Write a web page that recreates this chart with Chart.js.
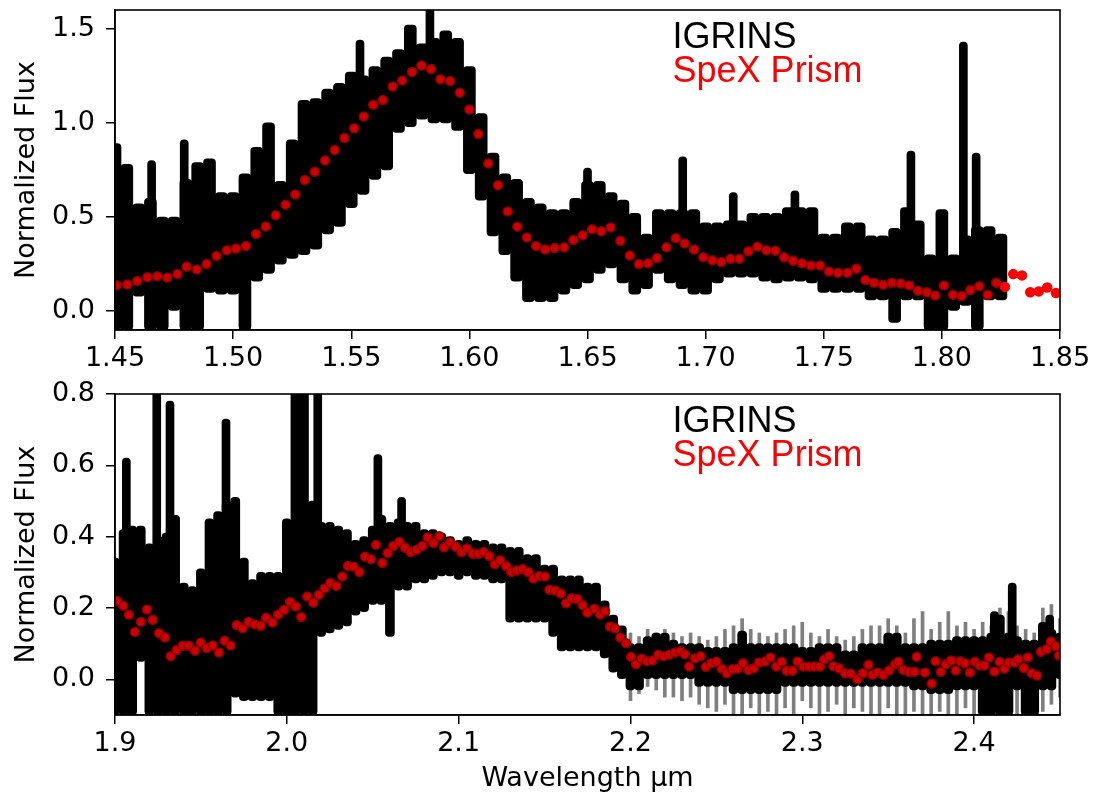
<!DOCTYPE html>
<html>
<head>
<meta charset="utf-8">
<script src="https://cdn.jsdelivr.net/npm/chart.js@4.4.1/dist/chart.umd.min.js"></script>
<style>
  body { margin: 0; background: #fff; width: 1103px; height: 795px; position: relative; overflow: hidden; }
  canvas { position: absolute; left: 0; }
</style>
</head>
<body>
<canvas id="topChart" width="1103" height="375" style="top:0"></canvas>
<canvas id="botChart" width="1103" height="420" style="top:375px"></canvas>
<script>
// ---- labels / ticks ----
const legendLabels = ["IGRINS", "SpeX Prism"];
const yTitle = "Normalized Flux";
const xTitle = "Wavelength \u03bcm";
const topTicksX = [1.45, 1.50, 1.55, 1.60, 1.65, 1.70, 1.75, 1.80, 1.85];
const topTicksY = [0.0, 0.5, 1.0, 1.5];
const botTicksX = [1.9, 2.0, 2.1, 2.2, 2.3, 2.4];
const botTicksY = [0.0, 0.2, 0.4, 0.6, 0.8];

// ---- IGRINS, H band: flux range (low/high) in 0.005 um bins from 1.450 ----
const igrinsTopStart = 1.45;
const igrinsTopHi = [0.89,0.78,0.57,0.60,0.50,0.50,0.70,0.79,0.81,0.63,
  0.63,0.73,0.87,1.00,0.69,0.91,1.12,1.13,1.18,1.21,
  1.27,1.25,1.30,1.35,1.39,1.52,1.42,1.45,1.49,1.45,
  1.30,1.05,0.84,0.73,0.70,0.60,0.57,0.54,0.54,0.60,
  0.69,0.69,0.63,0.59,0.52,0.41,0.54,0.54,0.54,0.54,
  0.47,0.47,0.48,0.48,0.52,0.52,0.52,0.55,0.55,0.55,
  0.41,0.41,0.47,0.47,0.40,0.40,0.44,0.55,0.48,0.30,
  0.54,0.30,0.40,0.45,0.45,0.41];
const igrinsTopLo = [-0.1,-0.1,0.08,-0.1,-0.1,0.0,-0.1,-0.1,0.10,0.09,
  0.09,-0.1,0.16,0.20,0.25,0.28,0.30,0.33,0.41,0.45,
  0.55,0.62,0.70,0.75,0.95,0.98,1.02,1.00,1.00,0.96,
  0.73,0.59,0.40,0.30,0.16,0.05,0.05,0.05,0.09,0.12,
  0.15,0.20,0.23,0.15,0.09,0.12,0.20,0.15,0.12,0.09,
  0.09,0.15,0.18,0.18,0.18,0.16,0.15,0.16,0.16,0.15,
  0.10,0.10,0.10,0.10,0.06,0.06,-0.06,0.06,0.06,-0.1,
  -0.1,0.0,0.03,-0.1,0.06,0.06];
// narrow emission spikes: [wavelength, low, high]
const igrinsTopSpikes = [[1.4655,0.30,0.80],[1.4793,0.30,0.91],[1.5537,0.80,1.44],[1.5833,1.10,1.61],
  [1.6500,0.30,0.76],[1.6903,0.30,0.82],[1.7117,0.30,0.63],[1.7378,0.30,0.64],
  [1.7869,0.20,0.85],[1.8091,0.20,1.43],[1.8145,0.10,0.84]];

// ---- IGRINS, K band ----
const igrinsBotStart = 1.90;
const igrinsBotHi = [0.34,0.42,0.43,0.43,0.38,0.40,0.41,0.46,0.27,0.26,
  0.31,0.45,0.47,0.50,0.51,0.34,0.28,0.30,0.30,0.30,
  0.45,0.82,0.82,0.50,0.44,0.44,0.43,0.42,0.39,0.40,
  0.43,0.46,0.44,0.45,0.44,0.44,0.42,0.42,0.41,0.40,
  0.39,0.40,0.39,0.39,0.38,0.38,0.37,0.37,0.35,0.35,
  0.32,0.32,0.29,0.29,0.29,0.27,0.27,0.22,0.18,0.15,
  0.10,0.10,0.12,0.13,0.13,0.11,0.10,0.10,0.10,0.09,
  0.09,0.09,0.10,0.135,0.10,0.10,0.10,0.10,0.10,0.10,
  0.09,0.09,0.10,0.10,0.10,0.08,0.08,0.10,0.10,0.10,
  0.13,0.13,0.10,0.10,0.10,0.11,0.11,0.11,0.12,0.12,
  0.12,0.12,0.13,0.18,0.13,0.12,0.11,0.11,0.16,0.14,
  0.13];
const igrinsBotLo = [-0.1,-0.1,-0.1,0.05,-0.1,-0.1,-0.1,-0.1,-0.1,-0.1,
  -0.1,-0.1,-0.1,-0.1,-0.05,-0.06,-0.06,-0.06,-0.06,-0.1,
  -0.1,-0.1,-0.1,-0.1,0.12,0.13,0.14,0.15,0.18,0.19,
  0.21,0.21,0.12,0.25,0.25,0.27,0.27,0.28,0.29,0.29,
  0.28,0.29,0.28,0.28,0.27,0.27,0.16,0.16,0.16,0.16,
  0.16,0.12,0.08,0.08,0.08,0.08,0.08,0.06,0.02,0.00,
  -0.03,-0.03,0.00,0.00,0.00,0.00,0.00,0.00,-0.02,-0.02,
  -0.02,-0.02,-0.04,-0.04,-0.04,-0.04,-0.04,-0.04,-0.02,-0.02,
  -0.02,-0.02,-0.02,-0.02,-0.02,-0.02,-0.02,-0.02,-0.02,-0.02,
  -0.02,-0.02,-0.02,-0.03,-0.03,-0.04,-0.04,-0.04,-0.03,-0.03,
  -0.03,-0.1,-0.1,-0.1,-0.1,-0.03,-0.1,-0.1,-0.03,-0.03,
  0.00];
const igrinsBotSpikes = [[1.9066,0.30,0.62],[1.9243,0.30,0.82],[1.9320,0.30,0.78],[1.9646,0.30,0.73],
  [2.0180,0.30,0.82],[2.0530,0.30,0.63],[2.0668,0.30,0.51],
  [2.4118,0.00,0.19],[2.4222,0.00,0.27],[2.4440,0.00,0.18]];
// faint noisy streaks past 2.2 um
const noiseStart = 2.20;
const noiseHi = [0.13,0.12,0.14,0.13,0.14,0.13,0.12,0.13,0.12,0.11,
  0.12,0.14,0.15,0.17,0.14,0.13,0.12,0.13,0.14,0.15,
  0.16,0.13,0.12,0.14,0.12,0.11,0.12,0.14,0.15,0.15,
  0.17,0.15,0.13,0.17,0.19,0.14,0.16,0.19,0.15,0.16,
  0.14,0.16,0.15,0.20,0.19,0.15,0.14,0.13,0.20,0.21,
  0.17];
const noiseLo = [-0.06,-0.04,-0.02,-0.03,-0.05,-0.05,-0.06,-0.05,-0.07,-0.08,
  -0.09,-0.07,-0.1,-0.1,-0.08,-0.1,-0.09,-0.1,-0.08,-0.1,
  -0.06,-0.08,-0.1,-0.09,-0.07,-0.1,-0.08,-0.09,-0.1,-0.1,
  -0.08,-0.1,-0.1,-0.09,-0.1,-0.1,-0.09,-0.1,-0.1,-0.08,
  -0.1,-0.1,-0.1,-0.1,-0.1,-0.1,-0.1,-0.1,-0.09,-0.07,
  -0.05];
const binStep = 0.005;

// ---- SpeX Prism ----
const spexTopW = [1.4507,1.4552,1.4594,1.4637,1.4679,1.4721,1.4764,1.4803,1.4846,1.4888,
  1.4930,1.4973,1.5012,1.5054,1.5097,1.5138,1.5180,1.5222,1.5263,1.5304,
  1.5346,1.5389,1.5430,1.5471,1.5512,1.5553,1.5593,1.5634,1.5675,1.5716,
  1.5757,1.5797,1.5838,1.5877,1.5918,1.5959,1.6000,1.6038,1.6080,1.6121,
  1.6162,1.6203,1.6243,1.6282,1.6321,1.6361,1.6401,1.6440,1.6480,1.6519,
  1.6558,1.6598,1.6639,1.6679,1.6717,1.6756,1.6794,1.6834,1.6873,1.6911,
  1.6951,1.6990,1.7028,1.7066,1.7105,1.7143,1.7181,1.7219,1.7257,1.7295,
  1.7332,1.7370,1.7408,1.7446,1.7484,1.7522,1.7560,1.7600,1.7638,1.7676,
  1.7713,1.7751,1.7788,1.7826,1.7862,1.7899,1.7936,1.7972,1.8009,1.8047,
  1.8084,1.8120,1.8158,1.8194,1.8230,1.8267,1.8302,1.8339,1.8374,1.8410,
  1.8446,1.8483];
const spexTopF = [0.138,0.142,0.160,0.180,0.186,0.179,0.197,0.236,0.222,0.250,
  0.293,0.324,0.333,0.346,0.410,0.450,0.509,0.566,0.620,0.697,
  0.741,0.800,0.856,0.920,0.972,1.034,1.097,1.122,1.193,1.225,
  1.271,1.305,1.286,1.232,1.223,1.161,1.071,0.941,0.785,0.669,
  0.530,0.449,0.392,0.346,0.328,0.335,0.339,0.378,0.403,0.435,
  0.424,0.445,0.374,0.296,0.250,0.254,0.282,0.339,0.388,0.360,
  0.328,0.286,0.271,0.261,0.278,0.278,0.318,0.342,0.324,0.321,
  0.286,0.268,0.254,0.243,0.243,0.211,0.204,0.204,0.225,0.165,
  0.151,0.140,0.151,0.147,0.137,0.108,0.101,0.083,0.137,0.087,
  0.080,0.112,0.133,0.087,0.151,0.129,0.197,0.190,0.101,0.105,
  0.126,0.097];
const spexBotW = [1.9013,1.9048,1.9081,1.9116,1.9151,1.9186,1.9219,1.9256,1.9291,1.9324,
  1.9359,1.9394,1.9429,1.9466,1.9499,1.9533,1.9569,1.9605,1.9638,1.9673,
  1.9708,1.9743,1.9778,1.9813,1.9848,1.9879,1.9916,1.9949,1.9984,2.0019,
  2.0052,2.0084,2.0119,2.0154,2.0187,2.0220,2.0253,2.0288,2.0323,2.0356,
  2.0389,2.0422,2.0455,2.0490,2.0519,2.0556,2.0587,2.0620,2.0655,2.0688,
  2.0721,2.0756,2.0789,2.0820,2.0853,2.0888,2.0915,2.0950,2.0983,2.1016,
  2.1049,2.1082,2.1114,2.1146,2.1178,2.1210,2.1241,2.1276,2.1306,2.1338,
  2.1371,2.1404,2.1435,2.1469,2.1503,2.1528,2.1561,2.1594,2.1625,2.1658,
  2.1691,2.1722,2.1749,2.1790,2.1823,2.1852,2.1881,2.1910,2.1941,2.1974,
  2.2003,2.2032,2.2065,2.2096,2.2127,2.2162,2.2193,2.2226,2.2259,2.2290,
  2.2317,2.2342,2.2376,2.2409,2.2438,2.2469,2.2500,2.2531,2.2560,2.2593,
  2.2624,2.2655,2.2686,2.2717,2.2748,2.2783,2.2814,2.2849,2.2880,2.2909,
  2.2942,2.2973,2.3006,2.3039,2.3070,2.3103,2.3128,2.3157,2.3181,2.3214,
  2.3249,2.3282,2.3321,2.3352,2.3385,2.3408,2.3439,2.3472,2.3505,2.3540,
  2.3559,2.3588,2.3621,2.3652,2.3666,2.3714,2.3753,2.3776,2.3807,2.3835,
  2.3866,2.3893,2.3920,2.3947,2.3976,2.4005,2.4033,2.4060,2.4087,2.4118,
  2.4149,2.4176,2.4203,2.4234,2.4257,2.4289,2.4312,2.4335,2.4366,2.4389,
  2.4422,2.4447,2.4475,2.4494];
const spexBotF = [0.220,0.206,0.181,0.133,0.161,0.196,0.167,0.129,0.117,0.065,
  0.082,0.094,0.094,0.080,0.103,0.088,0.095,0.075,0.108,0.095,
  0.152,0.143,0.161,0.154,0.150,0.173,0.159,0.182,0.195,0.217,
  0.204,0.175,0.232,0.215,0.237,0.255,0.270,0.262,0.288,0.318,
  0.316,0.301,0.344,0.337,0.377,0.326,0.354,0.374,0.385,0.369,
  0.357,0.363,0.374,0.398,0.382,0.401,0.370,0.384,0.372,0.357,
  0.367,0.352,0.352,0.357,0.346,0.323,0.334,0.318,0.301,0.305,
  0.309,0.301,0.283,0.290,0.288,0.251,0.249,0.241,0.213,0.227,
  0.225,0.208,0.187,0.198,0.182,0.191,0.148,0.143,0.117,0.101,
  0.063,0.042,0.058,0.051,0.053,0.069,0.065,0.069,0.075,0.079,
  0.070,0.036,0.059,0.065,0.035,0.045,0.049,0.030,0.017,0.028,
  0.030,0.045,0.026,0.031,0.047,0.050,0.061,0.036,0.049,0.024,
  0.024,0.050,0.036,0.036,0.036,0.036,0.056,0.065,0.037,0.031,
  0.017,0.016,0.000,0.017,0.041,0.013,0.019,0.013,0.025,0.042,
  0.049,0.026,0.021,0.021,0.063,0.019,-0.012,0.051,0.021,0.042,
  0.053,0.025,0.051,0.045,0.019,0.049,0.039,0.039,0.061,0.022,
  0.049,0.030,0.047,0.047,0.056,0.032,0.061,0.017,0.011,0.077,
  0.084,0.106,0.093,0.067];

// ---- helpers ----
function binData(start, lo, hi) {
  return hi.map((h, i) => ({x: +(start + binStep * i).toFixed(4), y: [lo[i], h]}));
}
function spikeData(list) {
  return list.map(([w, lo, hi]) => ({x: w, y: [lo, hi]}));
}
function pointData(ws, fs) {
  return ws.map((w, i) => ({x: w, y: fs[i]}));
}

Chart.defaults.font.family = "'DejaVu Sans', sans-serif";
Chart.defaults.color = "#000";
const fontSize = 27;

const framePlugin = {
  id: "frameAndText",
  afterDraw(chart) {
    const {ctx, chartArea: a} = chart;
    ctx.save();
    ctx.strokeStyle = "#000";
    ctx.lineWidth = 1.6;
    ctx.strokeRect(a.left, a.top, a.right - a.left, a.bottom - a.top);
    ctx.font = "36px 'Liberation Sans', Arial, sans-serif";
    ctx.textAlign = "left";
    ctx.textBaseline = "alphabetic";
    let tx = a.left + 0.59 * (a.right - a.left);
    ctx.fillStyle = "#000";
    ctx.fillText(legendLabels[0], tx, a.top + 38);
    ctx.fillStyle = "#ff0000";
    ctx.fillText(legendLabels[1], tx, a.top + 72);
    ctx.restore();
  }
};

function makePanel(id, p) {
  const barStyle = {type: "bar", grouped: false, borderSkipped: false, backgroundColor: "#000"};
  const datasets = [
    {...barStyle, label: legendLabels[0], data: binData(p.start, p.lo, p.hi),
      barThickness: p.binPx, borderRadius: 4, order: 2},
    {...barStyle, label: legendLabels[0] + " spikes", data: spikeData(p.spikes),
      barThickness: 8, borderRadius: 4, order: 2},
    {type: "scatter", label: legendLabels[1], data: pointData(p.spexW, p.spexF), order: 0,
      pointRadius: 4.5, borderWidth: 1.5,
      pointBackgroundColor: c => (c.raw && c.raw.x > p.brightFrom) ? "#ff0000" : "#cc0000",
      pointBorderColor: c => (c.raw && c.raw.x > p.brightFrom) ? "#ff0000" : "#8a0000"}
  ];
  if (p.noiseHi) {
    datasets.push({...barStyle, label: "noise", data: binData(noiseStart, p.noiseLo, p.noiseHi),
      barThickness: 3, backgroundColor: "rgba(0,0,0,0.5)", order: 3});
  }
  new Chart(document.getElementById(id), {
    type: "bar",
    data: {datasets},
    plugins: [framePlugin],
    options: {
      responsive: false,
      animation: false,
      events: [],
      layout: {padding: {left: 0, right: 43, top: p.padTop, bottom: 0}},
      plugins: {legend: {display: false}, tooltip: {enabled: false}},
      scales: {
        x: {
          type: "linear", min: p.xMin, max: p.xMax, offset: false,
          afterBuildTicks: s => { s.ticks = p.xTicks.map(v => ({value: v})); },
          afterFit: s => { s.height = p.xAxisH; s.paddingLeft = 0; s.paddingRight = 0; },
          ticks: {callback: v => v.toFixed(p.xDec), font: {size: fontSize}, padding: 4, maxRotation: 0, autoSkip: false},
          grid: {drawOnChartArea: false, drawTicks: true, tickLength: 9, color: "#000", lineWidth: 1.5, offset: false},
          border: {display: true, color: "#000", width: 1.6},
          title: {display: !!p.xTitle, text: p.xTitle || "", font: {size: fontSize}, padding: {top: 0, bottom: 0}}
        },
        y: {
          type: "linear", min: p.yMin, max: p.yMax,
          afterBuildTicks: s => { s.ticks = p.yTicks.map(v => ({value: v})); },
          afterFit: s => { s.width = 115; s.paddingTop = 0; s.paddingBottom = 0; },
          ticks: {callback: v => v.toFixed(1), font: {size: fontSize}, padding: 11},
          grid: {drawOnChartArea: false, drawTicks: true, tickLength: 9, color: "#000", lineWidth: 1.5},
          border: {display: true, color: "#000", width: 1.6},
          title: {display: true, text: yTitle, font: {size: fontSize}, padding: {top: 11, bottom: 0}}
        }
      }
    }
  });
}

makePanel("topChart", {
  start: igrinsTopStart, lo: igrinsTopLo, hi: igrinsTopHi, spikes: igrinsTopSpikes, binPx: 12,
  spexW: spexTopW, spexF: spexTopF, brightFrom: 1.826,
  xMin: 1.45, xMax: 1.85, xTicks: topTicksX, xDec: 2,
  yMin: -0.1, yMax: 1.6, yTicks: topTicksY,
  padTop: 10, xAxisH: 45
});
makePanel("botChart", {
  start: igrinsBotStart, lo: igrinsBotLo, hi: igrinsBotHi, spikes: igrinsBotSpikes, binPx: 9,
  noiseLo: noiseLo, noiseHi: noiseHi,
  spexW: spexBotW, spexF: spexBotF, brightFrom: Infinity,
  xMin: 1.9, xMax: 2.45, xTicks: botTicksX, xDec: 1, xTitle: xTitle,
  yMin: -0.1, yMax: 0.8, yTicks: botTicksY,
  padTop: 19, xAxisH: 80
});
</script>
</body>
</html>
